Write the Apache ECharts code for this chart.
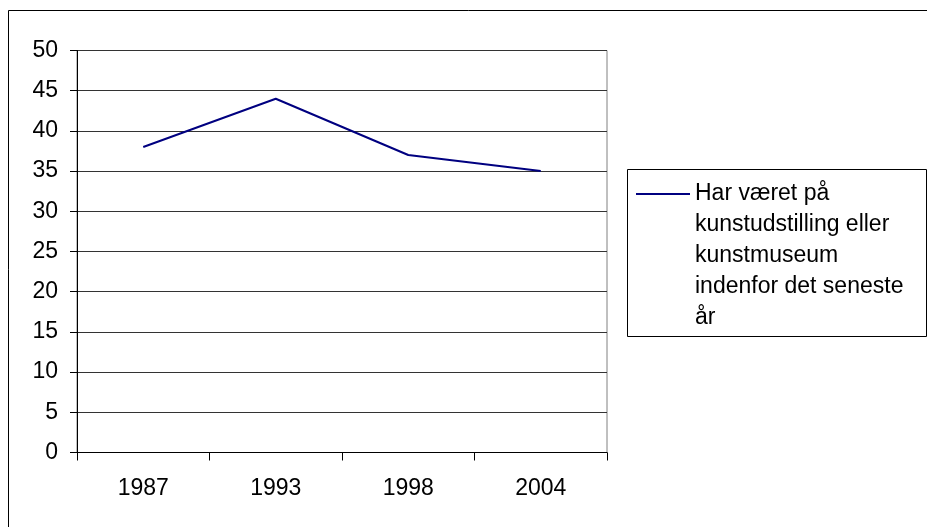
<!DOCTYPE html>
<html>
<head>
<meta charset="utf-8">
<script src="https://cdn.jsdelivr.net/npm/echarts@6/dist/echarts.min.js"></script>
<style>
html,body{margin:0;padding:0;background:#fff;}
#chart{width:927px;height:527px;}
</style>
</head>
<body>
<div id="chart"></div>
<script>
const categories = ['1987', '1993', '1998', '2004'];
const seriesName = 'Har været på\nkunstudstilling eller\nkunstmuseum\nindenfor det seneste\når';
const values = [38, 44, 37, 35];
const yTicks = { min: 0, max: 50, interval: 5 };

const FONT = 'Liberation Sans, Arial, sans-serif';
const chart = echarts.init(document.getElementById('chart'), null, { renderer: 'canvas' });
chart.setOption({
  animation: false,
  backgroundColor: '#fff',
  grid: {
    left: 77, right: 320, top: 50.5, bottom: 74.5,
    show: true, borderColor: '#808080', borderWidth: 1, backgroundColor: 'transparent'
  },
  xAxis: {
    type: 'category',
    data: categories,
    boundaryGap: true,
    axisLine: { lineStyle: { color: '#000', width: 1 } },
    axisTick: { show: true, length: 8, lineStyle: { color: '#000' } },
    axisLabel: { color: '#000', fontSize: 23, fontFamily: FONT, margin: 25 },
    splitLine: { show: false }
  },
  yAxis: {
    type: 'value',
    min: yTicks.min, max: yTicks.max, interval: yTicks.interval,
    axisLine: { show: true, lineStyle: { color: '#000', width: 1 } },
    axisTick: { show: true, length: 7, lineStyle: { color: '#000' } },
    axisLabel: { color: '#000', fontSize: 23, fontFamily: FONT, margin: 19 },
    splitLine: { show: true, lineStyle: { color: '#333', width: 1 } }
  },
  legend: {
    show: true,
    left: 636,
    top: 54.5,
    padding: 0,
    icon: 'rect',
    itemWidth: 54,
    itemHeight: 2,
    data: [seriesName],
    formatter: function (name) { return '\n\n\n\n' + name; },
    textStyle: {
      color: '#000', fontSize: 23, fontFamily: FONT, lineHeight: 31
    }
  },
  graphic: [
    { type: 'rect', shape: { x: 8.5, y: 10.5, width: 1000, height: 1000 }, style: { fill: 'none', stroke: '#000', lineWidth: 1 }, silent: true, z: -1 },
    { type: 'rect', shape: { x: 627.5, y: 169.5, width: 299, height: 167 }, style: { fill: 'none', stroke: '#000', lineWidth: 1 }, silent: true, z: -1 }
  ],
  series: [{
    name: seriesName,
    type: 'line',
    data: values,
    symbol: 'none',
    lineStyle: { color: '#000080', width: 2 },
    itemStyle: { color: '#000080' }
  }]
});
</script>
</body>
</html>
